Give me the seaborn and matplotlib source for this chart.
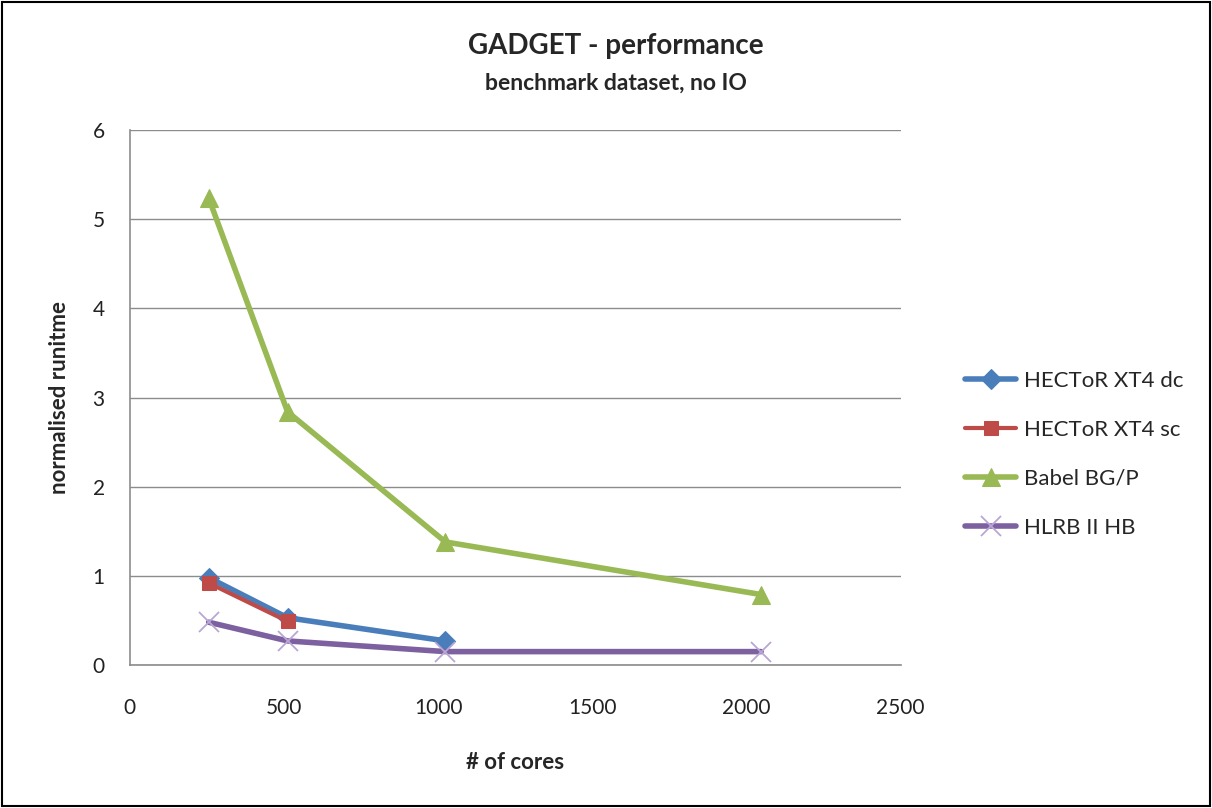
import matplotlib
matplotlib.use("Agg")
import matplotlib.pyplot as plt
import seaborn as sns
import pandas as pd
from matplotlib.patches import Rectangle

series_names = ["HECToR XT4 dc", "HECToR XT4 sc", "Babel BG/P", "HLRB II HB"]
dc_cores = [256, 512, 1024]
dc_vals = [0.98, 0.53, 0.27]
sc_cores = [256, 512]
sc_vals = [0.92, 0.49]
babel_cores = [256, 512, 1024, 2048]
babel_vals = [5.24, 2.84, 1.38, 0.79]
hlrb_cores = [256, 512, 1024, 2048]
hlrb_vals = [0.48, 0.27, 0.15, 0.15]
x_ticks = [0, 500, 1000, 1500, 2000, 2500]
y_ticks = [0, 1, 2, 3, 4, 5, 6]

rows = []
for name, xs, ys in zip(series_names,
                        [dc_cores, sc_cores, babel_cores, hlrb_cores],
                        [dc_vals, sc_vals, babel_vals, hlrb_vals]):
    for x, y in zip(xs, ys):
        rows.append({"cores": x, "runtime": y, "series": name})
df = pd.DataFrame(rows)

sns.set_theme(style="white")
plt.rcParams['font.family'] = ['Lato', 'DejaVu Sans']

colors = {"HECToR XT4 dc": "#4A7EBB", "HECToR XT4 sc": "#BE4B48",
          "Babel BG/P": "#98B954", "HLRB II HB": "#7D60A0"}
markers = {"HECToR XT4 dc": "D", "HECToR XT4 sc": "s",
           "Babel BG/P": "^", "HLRB II HB": "x"}
msizes = {"HECToR XT4 dc": 10, "HECToR XT4 sc": 10, "Babel BG/P": 13, "HLRB II HB": 14}
lwidths = {"HECToR XT4 dc": 4, "HECToR XT4 sc": 3, "Babel BG/P": 4, "HLRB II HB": 4}

fig = plt.figure(figsize=(12.12, 8.08), dpi=100)
ax = fig.add_axes([0.107, 0.177, 0.636, 0.662])

for name in series_names:
    sub = df[df.series == name]
    mk = markers[name]
    kw = dict(markersize=msizes[name], markeredgecolor=colors[name])
    if mk == "x":
        kw = dict(markersize=msizes[name], markeredgecolor="#B9A6D6", markeredgewidth=1.3)
    sns.lineplot(data=sub, x="cores", y="runtime", ax=ax, color=colors[name],
                 marker=mk, linewidth=lwidths[name], label=name, **kw)

ax.set_xlim(0, 2500)
ax.set_ylim(0, 6)
ax.set_xticks(x_ticks)
ax.set_yticks(y_ticks)
ax.tick_params(axis='both', labelsize=15, colors="#222222", length=0)
ax.tick_params(axis='x', pad=24)
ax.tick_params(axis='y', pad=18)
ax.yaxis.grid(True, color="#8c8c8c", linewidth=1)
ax.xaxis.grid(False)
for s in ["top", "right"]:
    ax.spines[s].set_visible(False)
for s in ["left", "bottom"]:
    ax.spines[s].set_color("#8c8c8c")
    ax.spines[s].set_linewidth(1.2)

ax.set_xlabel("# of cores", fontsize=16, fontweight="bold", labelpad=24)
ax.set_ylabel("normalised runitme", fontsize=16, fontweight="bold", labelpad=16)

fig.text(0.508, 0.943, "GADGET - performance", ha="center", va="center",
         fontsize=20, fontweight="bold")
fig.text(0.508, 0.897, "benchmark dataset, no IO", ha="center", va="center",
         fontsize=16.5, fontweight="bold")

leg = ax.legend(loc="center left", bbox_to_anchor=(1.084, 0.394), frameon=False,
                fontsize=16, labelspacing=1.3, handlelength=2.3, handletextpad=0.35,
                borderpad=0, borderaxespad=0)

fig.patches.append(Rectangle((0.002, 0.002), 0.996, 0.996, transform=fig.transFigure,
                             fill=False, edgecolor="black", linewidth=1.5))

fig.savefig("out.png", dpi=100)
